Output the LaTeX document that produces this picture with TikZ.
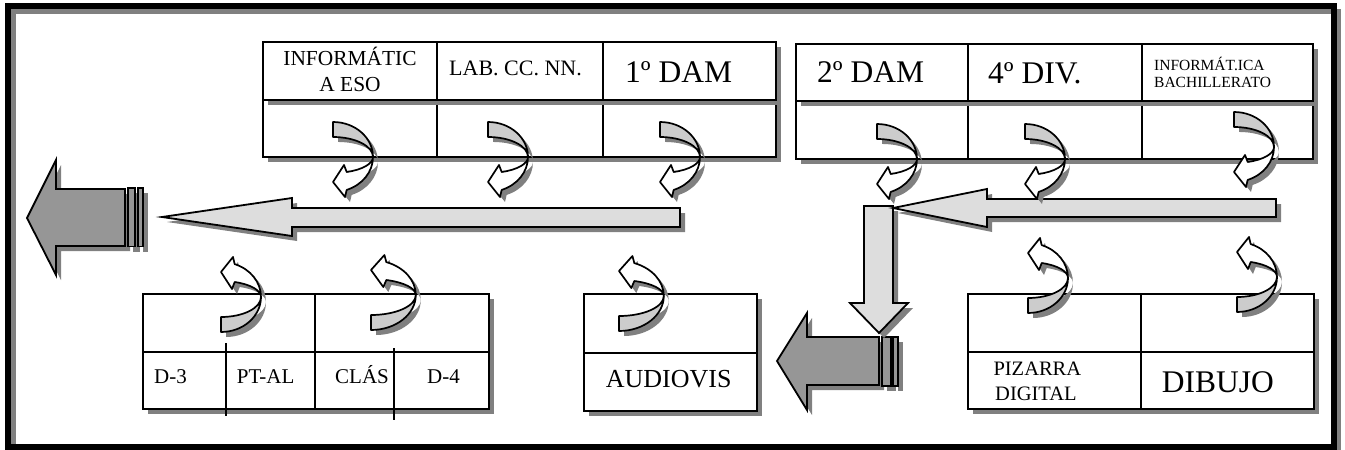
\documentclass[tikz,border=0pt]{standalone}
\usepackage{fontspec}
\setmainfont{Liberation Serif}
\usetikzlibrary{shadows}
\definecolor{shd}{HTML}{808080}
\definecolor{lightf}{HTML}{DDDDDD}
\definecolor{darkf}{HTML}{969696}
\definecolor{bandf}{HTML}{CCCCCC}
\newcommand\fsz[1]{\fontsize{#1}{#1}\selectfont}
\tikzset{
  shad/.style={drop shadow={shadow xshift=5pt, shadow yshift=-5pt, fill=shd, opacity=1}},
  cell/.style={draw=black, line width=2pt, fill=white, inner sep=0pt, shad},
  txt/.style={inner sep=0pt, anchor=base west, text=black},
  lightarrow/.style={draw=black, line width=1.8pt, fill=lightf, shad},
  darkarrow/.style={draw=black, line width=1.8pt, fill=darkf, shad},
  bandline/.style={draw=black, line width=1.7pt, line join=round},
}
\newcommand\cellbox[5]{\node[cell, minimum width={#4-#2}, minimum height={#5-#3}] (#1) at ({(#2+#4)/2},{(#3+#5)/2}) {};}
\newcommand\curv[4]{%
  \begin{scope}[shift={({#1+5},{#2+5})},yscale=#3,xscale=#4]
    \fill[shd] (0,-35) arc[start angle=-90, end angle=70, x radius=40, y radius=35]
      -- (12,40) -- (0,25) -- (11,8) -- (13.7,15)
      arc[start angle=70, end angle=0, x radius=40, y radius=16]
      arc[start angle=0, end angle=-90, x radius=40, y radius=20] -- cycle;
  \end{scope}
  \begin{scope}[shift={(#1,#2)},yscale=#3,xscale=#4]
    \filldraw[bandline, fill=bandf] (0,-35) arc[start angle=-90, end angle=0, x radius=40, y radius=35]
      arc[start angle=0, end angle=-90, x radius=40, y radius=20] -- cycle;
    \filldraw[bandline, fill=white] (40,0) arc[start angle=0, end angle=70, x radius=40, y radius=35]
      -- (12,40) -- (0,25) -- (11,8) -- (13.7,15)
      arc[start angle=70, end angle=0, x radius=40, y radius=16] -- cycle;
  \end{scope}}
\begin{document}
\begin{tikzpicture}[x=1pt, y=-1pt]
\fill[white] (0,0) rectangle (1345,450);
\useasboundingbox (0,0) rectangle (1345,450);
% frame
\draw[shd, line width=5pt] (13.5,11.5) rectangle (1338.5,452.5);
\draw[black, line width=6pt] (8,6) rectangle (1333.5,447);

% top-left table
\cellbox{tlb1}{263}{100}{437}{157}
\cellbox{tlb2}{437}{100}{603}{157}
\cellbox{tlb3}{603}{100}{776}{157}
\cellbox{tlt1}{263}{42}{437}{100}
\cellbox{tlt2}{437}{42}{603}{100}
\cellbox{tlt3}{603}{42}{776}{100}
% top-right table
\cellbox{trb1}{796}{101}{968}{159}
\cellbox{trb2}{968}{101}{1142}{159}
\cellbox{trb3}{1142}{101}{1313}{159}
\cellbox{trt1}{796}{44}{968}{101}
\cellbox{trt2}{968}{44}{1142}{101}
\cellbox{trt3}{1142}{44}{1313}{101}
% bottom-left table
\cellbox{blt1}{143}{294}{315}{352}
\cellbox{blt2}{315}{294}{489}{352}
\cellbox{blb1}{143}{352}{315}{409}
\cellbox{blb2}{315}{352}{489}{409}
\draw[black, line width=2pt] (226,343) coordinate (sd1a) -- (226,416) coordinate (sd1b);
\draw[black, line width=2pt] (394,348) coordinate (sd2a) -- (394,420) coordinate (sd2b);
% audiovis box
\cellbox{avt}{584}{294}{757}{353}
\cellbox{avb}{584}{353}{757}{411}
% bottom-right table
\cellbox{brt1}{968}{294}{1141}{352}
\cellbox{brt2}{1141}{294}{1314}{352}
\cellbox{brb1}{968}{352}{1141}{409}
\cellbox{brb2}{1141}{352}{1314}{409}

% texts
\node[txt, anchor=base, font=\fsz{21.4}] (t1) at (350,65) {INFORMÁTIC};
\node[txt, anchor=base, font=\fsz{21.4}] (t1b) at (350,91) {A ESO};
\node[txt, font=\fsz{22}] (t2) at (449,75) {LAB. CC. NN.};
\node[txt, font=\fsz{31.5}] (t3) at (625,82) {1º DAM};
\node[txt, font=\fsz{31.5}] (t4) at (817,82.5) {2º DAM};
\node[txt, font=\fsz{31.5}] (t5) at (988,83) {4º DIV.};
\node[txt, font=\fsz{15.5}] (t6) at (1154,70) {INFORMÁT.ICA};
\node[txt, font=\fsz{15.5}] (t6b) at (1154,87.3) {BACHILLERATO};
\node[txt, font=\fsz{21}] (t7) at (154,383.3) {D-3};
\node[txt, font=\fsz{21}] (t8) at (236.7,383.3) {PT-AL};
\node[txt, font=\fsz{21}] (t9) at (335,383.3) {CLÁS};
\node[txt, font=\fsz{21}] (t10) at (427,383.3) {D-4};
\node[txt, font=\fsz{26}] (t11) at (605.7,387.7) {AUDIOVIS};
\node[txt, font=\fsz{20.5}] (t12) at (993.3,375) {PIZARRA};
\node[txt, font=\fsz{20.5}] (t12b) at (995,400) {DIGITAL};
\node[txt, font=\fsz{31.5}] (t13) at (1161.7,392.3) {DIBUJO};

% block arrows
\filldraw[lightarrow] (680,208) -- (292,208) -- (292,198) -- (162,217) -- (292,236) -- (292,227) -- (680,227) -- cycle;
\filldraw[darkarrow] (125,189) -- (56,189) -- (56,160) -- (27,218) -- (56,275) -- (56,246) -- (125,246) -- cycle;
\filldraw[darkarrow] (128,188) rectangle (135,246.5);
\filldraw[darkarrow] (138,188) rectangle (143,246.5);
\filldraw[darkarrow] (879,337) -- (807,337) -- (807,313) -- (777,361) -- (807,410) -- (807,385) -- (879,385) -- cycle;
\filldraw[darkarrow] (882,337) rectangle (891,386);
\filldraw[darkarrow] (893,337) rectangle (898,386);
\filldraw[lightarrow] (864,206) -- (893,206) -- (893,303) -- (908,303) -- (879,333) -- (850,303) -- (864,303) -- cycle;
\filldraw[lightarrow] (1276,199) -- (987,199) -- (987,189) -- (893,208) -- (987,227) -- (987,217) -- (1276,217) -- cycle;

% curved arrows
\curv{333}{157}{1}{1}
\curv{488}{157}{1}{1}
\curv{660}{157}{1}{1}
\curv{877}{159}{1}{1}
\curv{1025}{159}{1}{1}
\curv{1234}{147}{1}{1}
\curv{221}{297}{-1}{1}
\curv{371}{295}{-1}{1.12}
\curv{619}{296}{-1}{1.12}
\curv{1028}{278}{-1}{1}
\curv{1237}{277}{-1}{1}
\end{tikzpicture}
\end{document}
